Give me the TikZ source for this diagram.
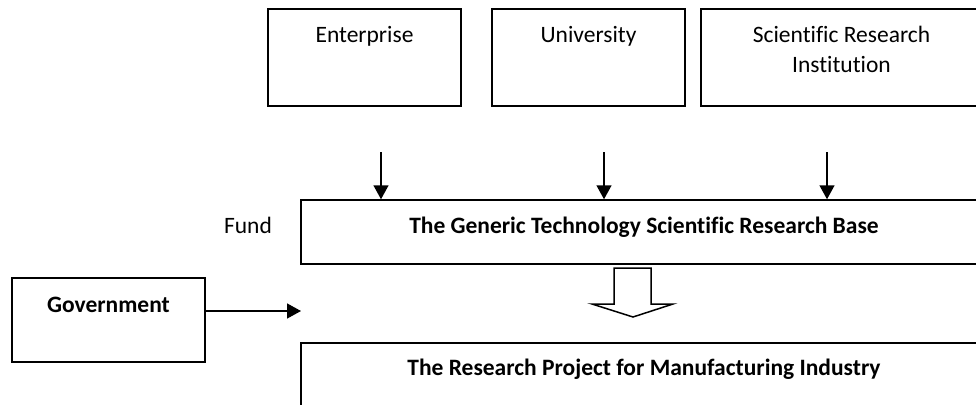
\documentclass[tikz,border=0pt]{standalone}
\usepackage{fontspec}
\setmainfont{Carlito}[Ligatures=NoCommon]
\usetikzlibrary{arrows.meta}
\begin{document}
\begin{tikzpicture}[x=1pt,y=1pt,
  box/.style={draw=black,line width=1.5pt,minimum width=#1,inner sep=0pt},
  txt/.style={inner sep=0pt,anchor=base,font=\fontsize{23.5}{30}\selectfont},
  btxt/.style={txt,font=\fontsize{23.5}{30}\selectfont\bfseries},
  arr/.style={line width=1.5pt,-{Triangle[width=15pt,length=14pt]}}]
\useasboundingbox (0,0) rectangle (976,-404);
\clip (0,0) rectangle (976,-404);
\fill[white] (0,0) rectangle (976,-404);
% top boxes
\node[box=193pt,minimum height=97pt] (ent) at (364.5,-57.5) {};
\node[box=193pt,minimum height=97pt] (uni) at (588.5,-57.5) {};
\node[box=281pt,minimum height=97pt] (sci) at (841.5,-57.5) {};
\node[txt] (entT) at (364.5,-43) {Enterprise};
\node[txt] (uniT) at (588.5,-43) {University};
\node[txt] (sciT1) at (841.5,-42) {Scientific Research};
\node[txt] (sciT2) at (841.5,-72) {Institution};
% base
\node[box=686pt,minimum height=64pt] (base) at (644,-232) {};
\node[btxt] (baseT) at (644,-233) {The Generic Technology Scientific Research Base};
\node[txt] (fund) at (248,-233) {Fund};
% project
\node[box=686pt,minimum height=77pt] (proj) at (644,-381.5) {};
\node[btxt] (projT) at (644,-375) {The Research Project for Manufacturing Industry};
% government
\node[box=193pt,minimum height=84pt] (gov) at (108.5,-320) {};
\node[btxt] (govT) at (108.5,-312) {Government};
% arrows into base
\coordinate (a1) at (381,-152);
\coordinate (a2) at (604,-152);
\coordinate (a3) at (827,-152);
\draw[arr] (a1) -- (a1 |- base.north);
\draw[arr] (a2) -- (a2 |- base.north);
\draw[arr] (a3) -- (a3 |- base.north);
% government arrow
\coordinate (gend) at (301,-311);
\draw[arr] (gov.east |- gend) -- (gend);
% hollow arrow
\draw[line width=1.5pt,fill=white,line join=miter]
  (614,-268) -- (651,-268) -- (651,-304) -- (673,-304) -- (633,-317)
  -- (592,-304) -- (614,-304) -- cycle;
\end{tikzpicture}
\end{document}
